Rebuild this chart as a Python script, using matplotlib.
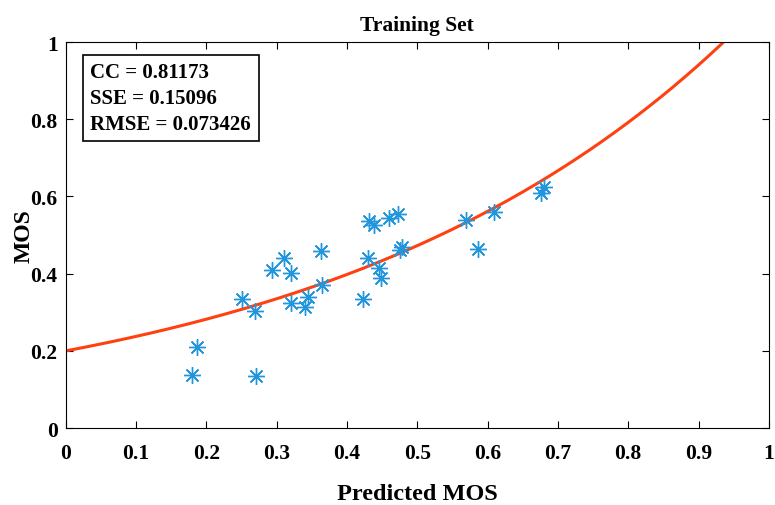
import numpy as np
import matplotlib
matplotlib.use('Agg')
import matplotlib.pyplot as plt

# Scatter data
predicted = [0.179, 0.186, 0.250, 0.269, 0.270, 0.293, 0.310, 0.320, 0.320, 0.340,
             0.345, 0.363, 0.364, 0.423, 0.430, 0.445, 0.448, 0.476, 0.478, 0.431,
             0.438, 0.460, 0.472, 0.569, 0.586, 0.609, 0.676, 0.680]
mos = [0.137, 0.210, 0.334, 0.303, 0.135, 0.409, 0.440, 0.402, 0.323, 0.313,
       0.339, 0.459, 0.370, 0.334, 0.440, 0.414, 0.389, 0.460, 0.468, 0.536,
       0.526, 0.544, 0.554, 0.539, 0.464, 0.560, 0.609, 0.624]

# Exponential fit y = a * exp(b * x)
fit_a = 0.2
fit_b = 1.72

stats = ['CC = 0.81173', 'SSE = 0.15096', 'RMSE = 0.073426']

plt.rcParams['font.family'] = ['Liberation Serif', 'DejaVu Serif']
plt.rcParams['font.weight'] = 'bold'

fig = plt.figure(figsize=(7.75, 5.06), dpi=100)
ax = fig.add_axes([0.085, 0.152, 0.907, 0.763])

xs = np.linspace(0, 1, 300)
ax.plot(xs, fit_a * np.exp(fit_b * xs), color='#FF4010', lw=2.2, zorder=2)
# MATLAB-like asterisk (8 spokes)
ax.plot(predicted, mos, ls='none', marker=(8, 2, 0), color='#2196DC', ms=12, mew=1.0, zorder=3)

ax.set_xlim(0, 1)
ax.set_ylim(0, 1)
ax.set_xticks(np.arange(0, 1.01, 0.1))
ax.set_xticklabels(['0', '0.1', '0.2', '0.3', '0.4', '0.5', '0.6', '0.7', '0.8', '0.9', '1'])
ax.set_yticks(np.arange(0, 1.01, 0.2))
ax.set_yticklabels(['0', '0.2', '0.4', '0.6', '0.8', '1'])
ax.tick_params(direction='in', top=True, right=True, labelsize=15.5, length=5)
ax.tick_params(axis='x', pad=11)
ax.tick_params(axis='y', pad=6)
for s in ax.spines.values():
    s.set_linewidth(0.8)

ax.set_title('Training Set', fontsize=15.5, fontweight='bold', pad=9)
ax.set_xlabel('Predicted MOS', fontsize=17.5, fontweight='bold', labelpad=14)
ax.set_ylabel('MOS', fontsize=17, fontweight='bold', labelpad=-3)

ax.text(0.035, 0.948, '\n'.join(stats), transform=ax.transAxes, fontsize=15,
        fontweight='bold', va='top', ha='left', linespacing=1.4,
        bbox=dict(boxstyle='square,pad=0.35', fc='white', ec='black', lw=1.2))

fig.savefig('out.png', dpi=100)
